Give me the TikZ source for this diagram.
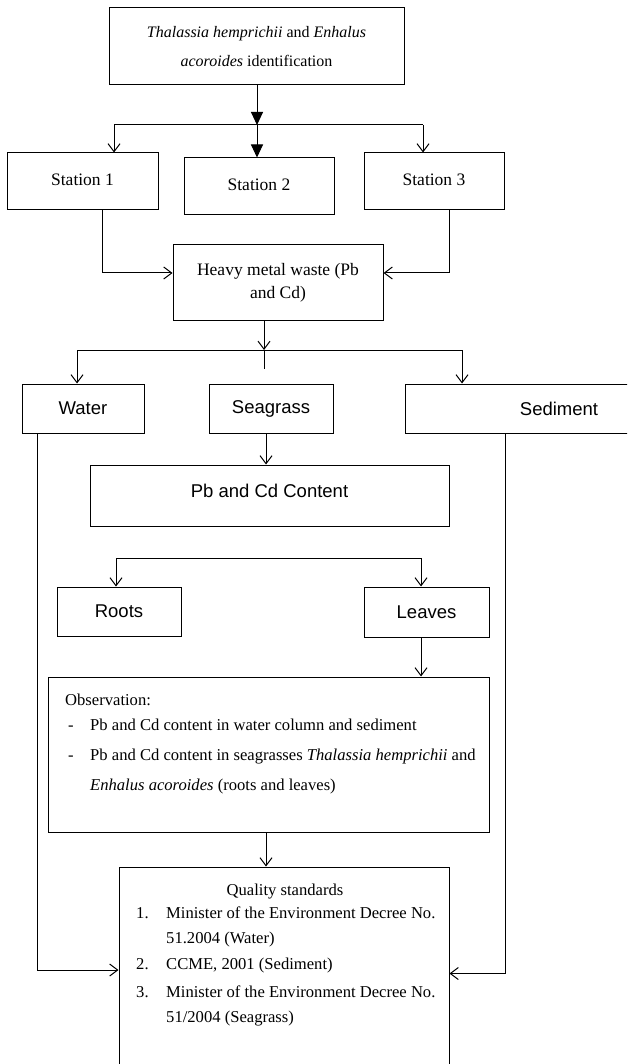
\documentclass[tikz,border=0pt]{standalone}
\usepackage{fontspec}
\setmainfont{Liberation Serif}
\newfontfamily\arialf{Liberation Sans}
\usetikzlibrary{arrows.meta}
\tikzset{
  box/.style={draw=black, line width=1pt, inner sep=0pt, fill=white},
  serif/.style={font=\fontsize{17.5}{29}\selectfont},
  sans/.style={font=\arialf\fontsize{18.5}{22}\selectfont},
  txt/.style={inner sep=0pt, anchor=base west, font=\fontsize{16.6}{22}\selectfont},
  conn/.style={line width=1pt, draw=black},
  arr/.style={conn, -{Straight Barb[length=8pt,width=12pt,line width=1pt]}},
  farr/.style={conn, -{Triangle[length=13pt,width=12pt]}},
}
\begin{document}
\begin{tikzpicture}[x=1pt,y=-1pt]
\useasboundingbox (0,0) rectangle (627,1064);
\clip (0,0) rectangle (627,1064);
\fill[white] (0,0) rectangle (627,1064);

% boxes
\node[box, serif, align=center, minimum width=295pt, minimum height=77pt] (top) at (256.5,46.5)
  {\fontsize{16}{29}\selectfont\textit{Thalassia hemprichii} and \textit{Enhalus}\\\fontsize{16}{29}\selectfont\textit{acoroides} identification};
\node[box, serif, minimum width=151pt, minimum height=57pt] (s1) at (82.5,181.5) {\raisebox{4pt}{Station 1}};
\node[box, serif, minimum width=150pt, minimum height=57pt] (s2) at (259,186.5) {\raisebox{4pt}{Station 2}};
\node[box, serif, minimum width=140pt, minimum height=57pt] (s3) at (434,181.5) {\raisebox{4pt}{Station 3}};
\node[box, align=center, font=\fontsize{17.5}{23}\selectfont, minimum width=210pt, minimum height=75pt] (heavy) at (278,282.5)
  {Heavy metal waste (Pb\\and Cd)};
\node[box, sans, minimum width=122pt, minimum height=49pt] (water) at (83,408.5) {Water};
\node[box, sans, minimum width=124pt, minimum height=49pt] (seagrass) at (271,408.5) {Seagrass};
\node[box, sans, minimum width=308pt, minimum height=49pt] (sediment) at (559,408.5) {Sediment};
\node[box, minimum width=359pt, minimum height=61pt] (pbcd) at (269.5,495.5) {};
\node[sans, inner sep=0pt, anchor=base] (pbcdt) at (269.5,497) {Pb and Cd Content};
\node[box, sans, minimum width=124pt, minimum height=49pt] (roots) at (119,611.5) {Roots};
\node[box, sans, minimum width=125pt, minimum height=50pt] (leaves) at (426.5,612) {Leaves};
\node[box, minimum width=441pt, minimum height=155pt] (obs) at (268.5,754.5) {};
\node[box, minimum width=330pt, minimum height=213pt] (quality) at (284,973.5) {};

% observation text
\node[txt] (o0) at (65,705) {Observation:};
\node[txt] (o1d) at (68,730) {-};
\node[txt] (o1) at (90,730) {Pb and Cd content in water column and sediment};
\node[txt] (o2d) at (68,760) {-};
\node[txt] (o2) at (90,760) {Pb and Cd content in seagrasses \textit{Thalassia hemprichii} and};
\node[txt] (o3) at (90,790) {\textit{Enhalus acoroides} (roots and leaves)};

% quality text
\node[txt, anchor=base] (q0) at (285,895) {Quality standards};
\node[txt] (q1n) at (136,918) {1.};
\node[txt] (q1) at (166,918) {Minister of the Environment Decree No.};
\node[txt] (q1b) at (166,943) {51.2004 (Water)};
\node[txt] (q2n) at (136,969) {2.};
\node[txt] (q2) at (166,969) {CCME, 2001 (Sediment)};
\node[txt] (q3n) at (136,997) {3.};
\node[txt] (q3) at (166,997) {Minister of the Environment Decree No.};
\node[txt] (q3b) at (166,1022) {51/2004 (Seagrass)};

% coordinates for bars
\coordinate (bar1) at (257,125);
\coordinate (b1L) at (114,125);
\coordinate (b1R) at (423,125);
\coordinate (bar2) at (264,350);
\coordinate (b2L) at (77,350);
\coordinate (b2R) at (462,350);
\coordinate (b3L) at (116,558);
\coordinate (b3R) at (421,558);

% connectors
\draw[farr] (top.south -| bar1) -- (bar1);
\draw[conn] (b1L) -- (b1R);
\draw[arr] (b1L) -- (b1L |- s1.north);
\draw[farr] (bar1) -- (bar1 |- s2.north);
\draw[arr] (b1R) -- (b1R |- s3.north);

\draw[arr] (s1.south -| 102,0) |- ([yshift=9.5pt]heavy.west);
\draw[arr] (s3.south -| 449,0) |- ([yshift=9.5pt]heavy.east);

\draw[arr] (heavy.south -| bar2) -- (bar2);
\draw[conn] (b2L) -- (b2R);
\draw[conn] (bar2) -- ++(0,19);
\draw[arr] (b2L) -- (b2L |- water.north);
\draw[arr] (b2R) -- (b2R |- sediment.north);

\draw[arr] (seagrass.south -| 266,0) -- (pbcd.north -| 266,0);

\draw[conn] (b3L) -- (b3R);
\draw[arr] (b3L) -- (b3L |- roots.north);
\draw[arr] (b3R) -- (b3R |- leaves.north);
\draw[arr] (leaves.south -| b3R) -- (obs.north -| b3R);

\draw[arr] (obs.south -| 266,0) -- (quality.north -| 266,0);

\draw[arr] (water.south -| 37,0) |- ([yshift=3.5pt]quality.west);
\draw[arr] (sediment.south -| 505,0) |- (quality.east);
\end{tikzpicture}
\end{document}
